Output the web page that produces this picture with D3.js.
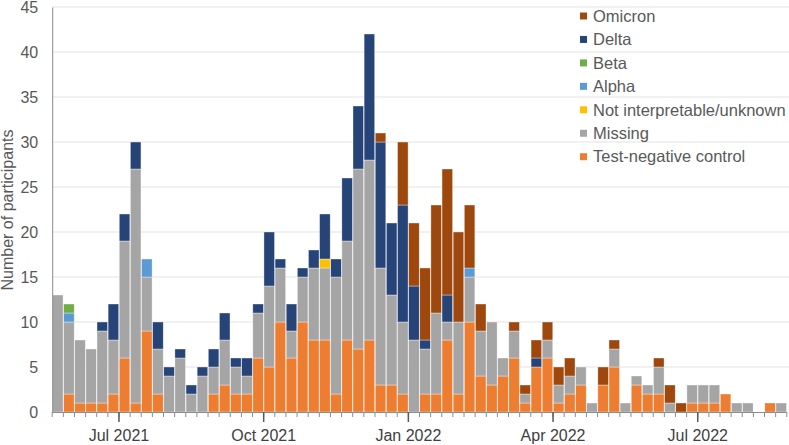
<!DOCTYPE html>
<html>
<head>
<meta charset="utf-8">
<script src="https://cdn.jsdelivr.net/npm/d3@7"></script>
<style>
  body { margin: 0; background: #fff; }
  text { font-family: "Liberation Sans", Arial, sans-serif; }
</style>
</head>
<body>
<div id="chart"></div>
<script>
// weekly bars, first week starting 21 May 2021
const weekStart = new Date(Date.UTC(2021, 4, 21));
const weeks = d3.range(66).map(i => d3.utcDay.offset(weekStart, 7 * i));

const testNegative = [0,2,1,1,1,2,6,1,9,2, 0,0,0,0,2,3,2,2,6,5, 10,6,10,8,8,2,8,7,8,3, 3,2,0,2,2,8,2,10,4,3, 4,6,1,5,6,1,2,3,0,3, 5,0,3,2,2,0,0,1,1,1, 2,0,0,0,1,0];
const missing      = [13,8,7,6,8,6,13,26,6,5, 4,6,2,4,3,5,3,2,5,9, 6,3,5,8,8,13,11,20,20,13, 10,8,8,5,9,2,8,5,5,7, 2,3,1,0,2,2,2,2,1,0, 2,1,1,1,3,1,0,2,2,2, 0,1,1,0,0,1];
const notInterp    = [0,0,0,0,0,0,0,0,0,0, 0,0,0,0,0,0,0,0,0,0, 0,0,0,0,1,0,0,0,0,0, 0,0,0,0,0,0,0,0,0,0, 0,0,0,0,0,0,0,0,0,0, 0,0,0,0,0,0,0,0,0,0, 0,0,0,0,0,0];
const alpha        = [0,1,0,0,0,0,0,0,2,0, 0,0,0,0,0,0,0,0,0,0, 0,0,0,0,0,0,0,0,0,0, 0,0,0,0,0,0,0,1,0,0, 0,0,0,0,0,0,0,0,0,0, 0,0,0,0,0,0,0,0,0,0, 0,0,0,0,0,0];
const beta         = [0,1,0,0,0,0,0,0,0,0, 0,0,0,0,0,0,0,0,0,0, 0,0,0,0,0,0,0,0,0,0, 0,0,0,0,0,0,0,0,0,0, 0,0,0,0,0,0,0,0,0,0, 0,0,0,0,0,0,0,0,0,0, 0,0,0,0,0,0];
const delta        = [0,0,0,0,1,4,3,3,0,3, 1,1,1,1,2,3,1,2,1,6, 1,3,1,2,5,2,7,7,14,14, 8,13,6,1,0,3,0,0,0,0, 0,0,0,1,0,0,0,0,0,0, 0,0,0,0,0,0,0,0,0,0, 0,0,0,0,0,0];
const omicron      = [0,0,0,0,0,0,0,0,0,0, 0,0,0,0,0,0,0,0,0,0, 0,0,0,0,0,0,0,0,0,1, 0,7,7,8,12,14,10,7,3,0, 0,1,1,2,2,2,2,0,0,2, 1,0,0,0,1,2,1,0,0,0, 0,0,0,0,0,0];

const tickWeeks  = [6, 19, 32, 45, 58];
const tickLabels = ["Jul 2021", "Oct 2021", "Jan 2022", "Apr 2022", "Jul 2022"];
const yTicks = [0, 5, 10, 15, 20, 25, 30, 35, 40, 45];

// stacking order bottom -> top
const series = [
  { key: "Test-negative control", values: testNegative, color: "#ED7D31" },
  { key: "Missing", values: missing, color: "#A5A5A5" },
  { key: "Not interpretable/unknown", values: notInterp, color: "#FFC000" },
  { key: "Alpha", values: alpha, color: "#5B9BD5" },
  { key: "Beta", values: beta, color: "#70AD47" },
  { key: "Delta", values: delta, color: "#264478" },
  { key: "Omicron", values: omicron, color: "#9E480E" }
];

const width = 789, height = 445;
const x0 = 52.2, x1 = 52.2 + 66 * 11.13;
const yBottom = 412, yTop = 7;

const table = weeks.map((w, i) => {
  const row = { week: i };
  series.forEach(s => row[s.key] = s.values[i]);
  return row;
});

const svg = d3.select("#chart").append("svg")
  .attr("width", width)
  .attr("height", height);

const x = d3.scaleBand()
  .domain(d3.range(weeks.length))
  .range([x0, x1])
  .paddingInner(0.05)
  .paddingOuter(0.025);

const y = d3.scaleLinear()
  .domain([0, 45])
  .range([yBottom, yTop]);

// gridlines
svg.append("g")
  .selectAll("line")
  .data(yTicks.filter(d => d > 0))
  .enter().append("line")
  .attr("x1", x0)
  .attr("x2", width)
  .attr("y1", d => y(d))
  .attr("y2", d => y(d))
  .attr("stroke", "#e3e3e3")
  .attr("stroke-width", 1);

// bars
const stacked = d3.stack().keys(series.map(s => s.key))(table);
const colorOf = d3.scaleOrdinal().domain(series.map(s => s.key)).range(series.map(s => s.color));

svg.append("g")
  .selectAll("g")
  .data(stacked)
  .enter().append("g")
  .attr("fill", d => colorOf(d.key))
  .selectAll("rect")
  .data(d => d.filter(p => p[1] - p[0] > 0))
  .enter().append("rect")
  .attr("x", d => x(d.data.week))
  .attr("y", d => y(d[1]))
  .attr("width", x.bandwidth())
  .attr("height", d => y(d[0]) - y(d[1]))
  .attr("stroke", "#ffffff")
  .attr("stroke-width", 0.6)
  .attr("stroke-opacity", 0.6);

// y axis
const yAxis = d3.axisLeft(y).tickValues(yTicks).tickSize(0).tickPadding(14);
const gy = svg.append("g")
  .attr("transform", `translate(${x0},0)`)
  .call(yAxis);
gy.select(".domain").attr("stroke", "#8c8c8c");
gy.selectAll("text")
  .style("font-size", "16px")
  .attr("fill", "#595959");

// x axis line and ticks
const boundaries = d3.range(weeks.length + 1);
const bx = i => x0 + i * x.step();
const gx = svg.append("g");
gx.append("line")
  .attr("x1", x0).attr("x2", x1)
  .attr("y1", yBottom + 0.5).attr("y2", yBottom + 0.5)
  .attr("stroke", "#8c8c8c");
gx.selectAll(".minor")
  .data(boundaries)
  .enter().append("line")
  .attr("class", "minor")
  .attr("x1", d => bx(d)).attr("x2", d => bx(d))
  .attr("y1", yBottom).attr("y2", yBottom + 5)
  .attr("stroke", "#8c8c8c");
gx.selectAll(".major")
  .data(tickWeeks)
  .enter().append("line")
  .attr("class", "major")
  .attr("x1", d => bx(d)).attr("x2", d => bx(d))
  .attr("y1", yBottom).attr("y2", yBottom + 10)
  .attr("stroke", "#595959")
  .attr("stroke-width", 1.5);
gx.selectAll(".xlabel")
  .data(tickWeeks)
  .enter().append("text")
  .attr("class", "xlabel")
  .attr("x", d => bx(d))
  .attr("y", 441)
  .attr("text-anchor", "middle")
  .style("font-size", "16px")
  .attr("fill", "#404040")
  .text((d, i) => tickLabels[i]);

// y axis title
svg.append("text")
  .attr("transform", "rotate(-90)")
  .attr("x", -210)
  .attr("y", 13)
  .attr("text-anchor", "middle")
  .style("font-size", "16px")
  .attr("fill", "#595959")
  .text("Number of participants");

// legend (top to bottom: reverse of stack)
const legend = svg.append("g");
const legendItems = series.slice().reverse();
const lg = legend.selectAll("g")
  .data(legendItems)
  .enter().append("g")
  .attr("transform", (d, i) => `translate(580,${16 + i * 23.45})`);
lg.append("rect")
  .attr("x", 0).attr("y", -3.5)
  .attr("width", 7).attr("height", 7)
  .attr("fill", d => d.color);
lg.append("text")
  .attr("x", 13)
  .attr("y", 0)
  .attr("dy", "0.35em")
  .style("font-size", "16.5px")
  .attr("fill", "#595959")
  .text(d => d.key);
</script>
</body>
</html>
